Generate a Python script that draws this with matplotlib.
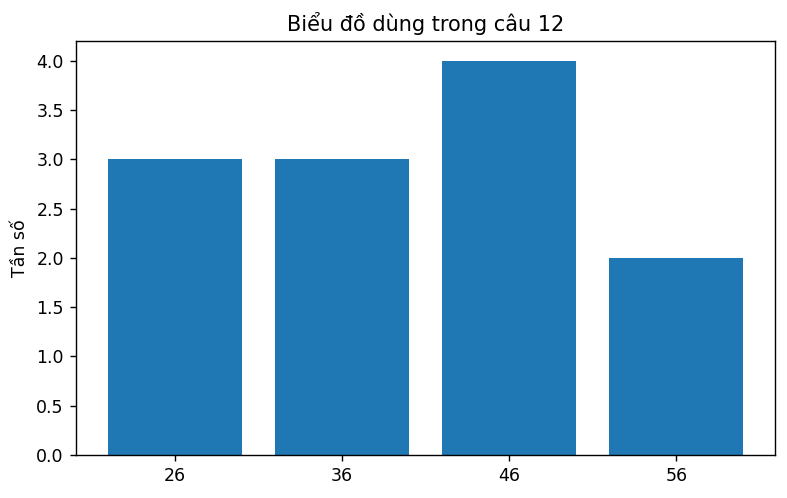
import matplotlib
matplotlib.use("Agg")
import matplotlib.pyplot as plt

categories = ["26", "36", "46", "56"]
values = [3, 3, 4, 2]

DPI = 125
fig, ax = plt.subplots(figsize=(787 / DPI, 498 / DPI), dpi=DPI)
ax.bar(categories, values, color="#1f77b4")
ax.set_title("Biểu đồ dùng trong câu 12")
ax.set_ylabel("Tần số")
fig.subplots_adjust(left=0.0966, right=0.9848, top=0.9177, bottom=0.0863)
fig.savefig("out.png", dpi=DPI)
